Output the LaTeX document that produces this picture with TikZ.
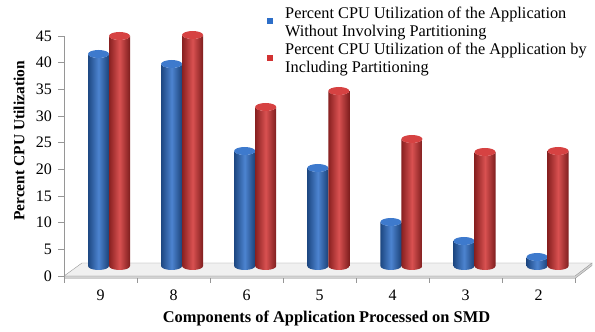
\documentclass[tikz,border=0pt]{standalone}
\usepackage{fontspec}
\setmainfont{Liberation Serif}
\usetikzlibrary{positioning}
\definecolor{cpublue}{RGB}{45,110,200}
\definecolor{cpured}{RGB}{210,50,50}
\definecolor{floorgray}{RGB}{240,240,240}
\definecolor{axisgray}{RGB}{150,150,150}
\newcommand{\barcyl}[3]{% left x, top y, colour
  \shade[left color=#3!65!black, right color=#3!60!black, middle color=#3!85!white]
    (#1,66) arc[start angle=180,end angle=360,x radius=10.5pt,y radius=4pt]
    -- (#1+21,#2) arc[start angle=0,end angle=-180,x radius=10.5pt,y radius=4pt] -- cycle;
  \fill[#3!92!white] (#1+10.5,#2) ellipse[x radius=10.5pt,y radius=4pt];
}

\begin{document}
\begin{tikzpicture}[x=1pt, y=1pt, every node/.style={font=\fontsize{16}{18}\selectfont, inner sep=0pt}]
  \useasboundingbox (0,0) rectangle (595,332);
  % floor
  \fill[floorgray] (64,56) -- (575,56) -- (592,69) -- (82,69) -- cycle;
  \fill[gray!35] (64,53.5) -- (575,53.5) -- (592,66.5) -- (592,69) -- (575,56) -- (64,56) -- cycle;
  \draw[axisgray] (64,56) -- (575,56) -- (592,69) -- (82,69) -- (64,56);
  \draw[axisgray] (64,53.5) -- (575,53.5) -- (592,66.5) -- (592,69);
  % value axis
  \draw[axisgray] (64,53.5) -- (64,296);
  \draw[axisgray] (58,56) -- (64,56) (58,82.67) -- (64,82.67) (58,109.33) -- (64,109.33)
    (58,136) -- (64,136) (58,162.67) -- (64,162.67) (58,189.33) -- (64,189.33)
    (58,216) -- (64,216) (58,242.67) -- (64,242.67) (58,269.33) -- (64,269.33) (58,296) -- (64,296);
  \node[anchor=east] (v0) at (52,56) {0};
  \node[anchor=east] (v5) at (52,82.67) {5};
  \node[anchor=east] (v10) at (52,109.33) {10};
  \node[anchor=east] (v15) at (52,136) {15};
  \node[anchor=east] (v20) at (52,162.67) {20};
  \node[anchor=east] (v25) at (52,189.33) {25};
  \node[anchor=east] (v30) at (52,216) {30};
  \node[anchor=east] (v35) at (52,242.67) {35};
  \node[anchor=east] (v40) at (52,269.33) {40};
  \node[anchor=east] (v45) at (52,296) {45};
  % category axis
  \draw[axisgray] (64,53.5) -- (64,49) (137,53.5) -- (137,49) (210,53.5) -- (210,49)
    (283,53.5) -- (283,49) (356,53.5) -- (356,49) (429,53.5) -- (429,49)
    (502,53.5) -- (502,49) (575,53.5) -- (575,49);
  \node (c9) at (100.5,37) {9};
  \node (c8) at (173.5,37) {8};
  \node (c6) at (246.5,37) {6};
  \node (c5) at (319.5,37) {5};
  \node (c4) at (392.5,37) {4};
  \node (c3) at (465.5,37) {3};
  \node (c2) at (538.5,37) {2};
  % cylinders
  \barcyl{88}{278}{cpublue}   \barcyl{109}{296}{cpured}
  \barcyl{161.1}{268}{cpublue} \barcyl{182.1}{297}{cpured}
  \barcyl{234.2}{181}{cpublue} \barcyl{255.2}{225}{cpured}
  \barcyl{307.3}{164}{cpublue} \barcyl{328.3}{241}{cpured}
  \barcyl{380.4}{110}{cpublue} \barcyl{401.4}{193}{cpured}
  \barcyl{453.5}{91}{cpublue}  \barcyl{474.5}{180}{cpured}
  \barcyl{526.6}{75}{cpublue}  \barcyl{547.6}{181}{cpured}
  % titles
  \node[font=\fontsize{16.4}{18}\selectfont\bfseries] (xtitle) at (326.5,14) {Components of Application Processed on SMD};
  \node[font=\fontsize{15.5}{18}\selectfont\bfseries, rotate=90] (ytitle) at (19,191) {Percent CPU Utilization};
  % legend
  \fill[cpublue] (267,308) rectangle (273,314);
  \fill[cpured] (267,271) rectangle (273,277);
  \node[anchor=west, align=left, font=\fontsize{16.3}{17.5}\selectfont] (lgblue) at (285,308.5)
    {Percent CPU Utilization of the Application\\Without Involving Partitioning};
  \node[anchor=west, align=left, font=\fontsize{16.3}{17.5}\selectfont] (lgred) at (285,272.5)
    {Percent CPU Utilization of the Application by\\Including Partitioning};
\end{tikzpicture}
\end{document}
